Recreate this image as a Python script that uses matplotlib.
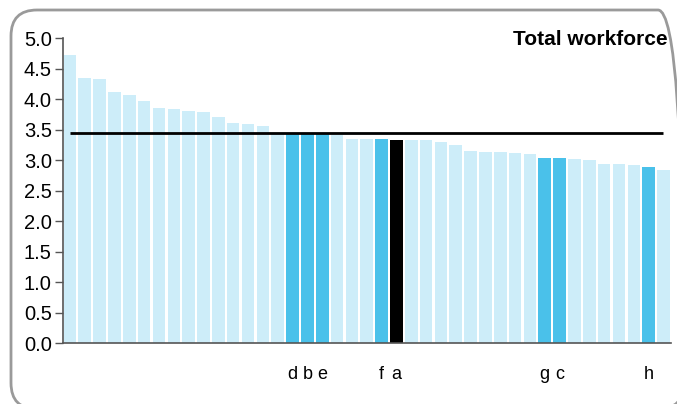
import numpy as np
import matplotlib.pyplot as plt
from matplotlib.patches import FancyBboxPatch

plt.rcParams['font.family'] = ['Liberation Sans', 'DejaVu Sans']

# bar values, sorted descending
values = [4.73, 4.35, 4.33, 4.12, 4.07, 3.97, 3.86, 3.84, 3.81, 3.79,
          3.71, 3.61, 3.59, 3.57, 3.45, 3.44, 3.44, 3.44, 3.41, 3.35,
          3.35, 3.35, 3.33, 3.33, 3.33, 3.30, 3.25, 3.15, 3.14, 3.14,
          3.12, 3.10, 3.04, 3.04, 3.02, 3.01, 2.94, 2.94, 2.92, 2.89,
          2.84]
# highlighted bars: index -> label
highlight = {15: 'd', 16: 'b', 17: 'e', 21: 'f', 22: 'a', 32: 'g', 33: 'c', 39: 'h'}
main_bar = 22          # the black one
average = 3.45
title = 'Total workforce'

LIGHT = '#cdedf9'
MID = '#4ac1ea'

fig = plt.figure(figsize=(6.77, 4.04), dpi=100)
ax = fig.add_axes([0.093, 0.150, 0.898, 0.755])

x = np.arange(len(values))
colors = []
for i in x:
    if i == main_bar:
        colors.append('black')
    elif i in highlight:
        colors.append(MID)
    else:
        colors.append(LIGHT)
ax.bar(x, values, width=0.85, color=colors, edgecolor='none', zorder=2)

ax.hlines(average, 0, len(values) - 1, color='black', linewidth=2, zorder=3)

ax.set_xlim(-0.47, len(values) - 0.5)
ax.set_ylim(0, 5)
yt = np.arange(0, 5.01, 0.5)
ax.set_yticks(yt)
ax.set_yticklabels([f'{v:.1f}' for v in yt], fontsize=14.5)
ax.tick_params(axis='y', length=6, width=1, color='#555555', pad=2)

ticks = sorted(highlight)
ax.set_xticks(ticks)
ax.set_xticklabels([highlight[i] for i in ticks], fontsize=13)
ax.tick_params(axis='x', length=0, pad=16)

for s in ['top', 'right']:
    ax.spines[s].set_visible(False)
ax.spines['left'].set_color('#555555')
ax.spines['bottom'].set_color('#555555')
ax.spines['left'].set_linewidth(1.2)
ax.spines['bottom'].set_linewidth(1.2)

ax.text(0.995, 0.978, title, transform=ax.transAxes, ha='right', va='baseline',
        fontsize=15, fontweight='bold')

# rounded frame around the chart, running off the right/bottom edges
W, H = 677, 404
frame = FancyBboxPatch((11 / W, -5 / H), 673 / W, 399 / H,
                       boxstyle='round,pad=0,rounding_size=%f' % (26 / W),
                       mutation_aspect=W / H, transform=fig.transFigure,
                       facecolor='none', edgecolor='#9a9a9a', linewidth=2,
                       clip_on=False)
fig.patches.append(frame)

plt.savefig('out.png', dpi=100)
